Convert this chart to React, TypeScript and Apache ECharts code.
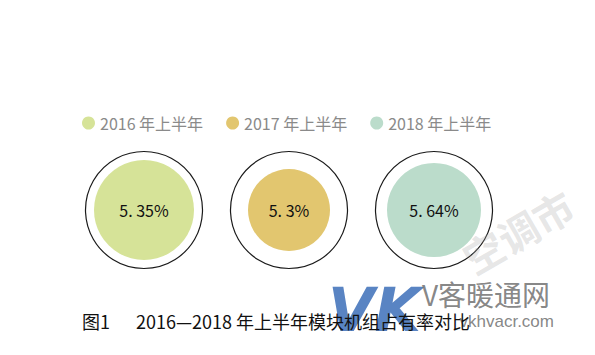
import React, { useEffect, useRef } from "react";
import * as echarts from "echarts";

const categories = ["2016 年上半年", "2017 年上半年", "2018 年上半年"];
const shareValues = [5.35, 5.3, 5.64];
const colors = ["#d6e398", "#e2c66f", "#bbdccb"];
const innerRadii = [50, 41, 47];
const centersX = [136, 281, 426];
const titleText = "图1　  2016—2018 年上半年模块机组占有率对比";

const FONT = "'Noto Sans CJK SC', 'Noto Sans', sans-serif";

export default function App() {
  const ref = useRef<HTMLDivElement>(null);
  useEffect(() => {
    if (!ref.current) return;
    const chart = echarts.init(ref.current, undefined, { renderer: "svg" });
    const series: any[] = [];
    categories.forEach((name, i) => {
      series.push({
        type: "pie",
        center: [centersX[i], 202],
        radius: [0, 58.5],
        silent: true,
        label: { show: false },
        labelLine: { show: false },
        itemStyle: { color: "rgba(0,0,0,0)", borderColor: "#1a1a1a", borderWidth: 1.2 },
        data: [{ name: "ring" + i, value: 1 }],
        z: 1,
      });
      series.push({
        type: "pie",
        center: [centersX[i], 202],
        radius: [0, innerRadii[i]],
        silent: true,
        labelLine: { show: false },
        label: {
          show: true,
          position: "center",
          formatter: (p: any) => String(p.value).replace(".", ". ") + "%",
          fontSize: 16,
          color: "#111",
          fontFamily: FONT,
        },
        itemStyle: { color: colors[i] },
        data: [{ name, value: shareValues[i] }],
        z: 2,
      });
    });
    chart.setOption({
      animation: false,
      backgroundColor: "#ffffff",
      color: colors,
      legend: {
        data: categories.map((n, i) => ({ name: n, itemStyle: { color: colors[i] } })),
        left: 69,
        top: 102,
        icon: "circle",
        itemWidth: 13,
        itemHeight: 13,
        itemGap: 23,
        textStyle: { color: "#8a8a8a", fontSize: 16, fontFamily: FONT },
        selectedMode: false,
      },
      graphic: [
        {
          type: "text",
          x: 448,
          y: 236,
          rotation: Math.PI / 6,
          style: { text: "空调市", fontSize: 40, fill: "rgba(170,170,170,0.3)", fontFamily: FONT, fontWeight: "bold" },
          z: 3,
        },
        {
          type: "text",
          x: 320,
          y: 272,
          style: { text: "VK", fontSize: 60, fill: "rgba(60,110,185,0.85)", fontFamily: "'DejaVu Sans', sans-serif", fontWeight: "bold", fontStyle: "italic" },
          z: 4,
        },
        {
          type: "text",
          x: 414,
          y: 272,
          style: { text: "V客暖通网", fontSize: 28, fill: "rgba(120,120,120,0.9)", fontFamily: FONT },
          z: 4,
        },
        {
          type: "text",
          x: 546,
          y: 305,
          style: { text: "vkhvacr.com", fontSize: 17, fill: "rgba(120,120,120,0.9)", fontFamily: "'Liberation Sans', sans-serif", textAlign: "right" },
          z: 4,
        },
        {
          type: "text",
          x: 74,
          y: 313,
          style: { text: titleText, fontSize: 18, fill: "#111", fontFamily: FONT, textVerticalAlign: "middle" },
          z: 5,
        },
      ],
      series,
    });
    return () => chart.dispose();
  }, []);
  return <div ref={ref} style={{ width: 579, height: 339 }} />;
}
